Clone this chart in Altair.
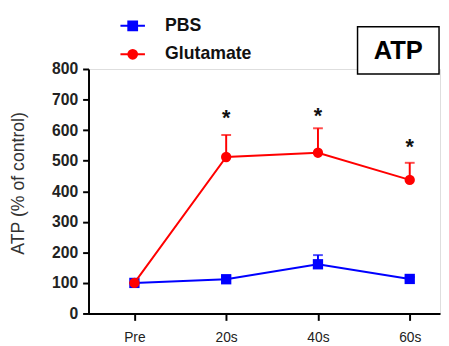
import altair as alt
import pandas as pd

# ---- data ----
x_labels = ["Pre", "20s", "40s", "60s"]
x_index = [0, 1, 2, 3]
pbs_mean = [100, 112, 161, 113]
pbs_upper = [100, 122, 191, 119]
glu_mean = [100, 512, 526, 437]
glu_upper = [100, 584, 606, 493]
star_index = [1, 2, 3]
star_value = [652, 660, 557]
y_ticks = [0, 100, 200, 300, 400, 500, 600, 700, 800]
series_names = ["PBS", "Glutamate"]
series_colors = ["#0000ff", "#ff0000"]
series_shapes = ["square", "circle"]
legend_paths = [
    "M-1.56,0H1.56M-0.56,-0.56H0.56V0.56H-0.56Z",
    "M-1.56,0H1.56M0.56,0A0.56,0.56,0,1,1,-0.56,0A0.56,0.56,0,1,1,0.56,0Z",
]
panel_label = "ATP"

FONT = "Liberation Sans"

rows = []
for name, means, uppers in [("PBS", pbs_mean, pbs_upper), ("Glutamate", glu_mean, glu_upper)]:
    for i, m, u in zip(x_index, means, uppers):
        rows.append({"series": name, "t": i, "mean": m, "upper": u})
df = pd.DataFrame(rows)
stars = pd.DataFrame({"t": star_index, "mean": star_value, "s": ["*"] * len(star_index)})
legend_df = pd.DataFrame({"series": series_names})
label_df = pd.DataFrame({"label": [panel_label]})

label_expr = "[" + ",".join(f"'{l}'" for l in x_labels) + "][datum.value]"

xscale = alt.Scale(domain=[-0.5, 3.33], nice=False, zero=False)
yscale = alt.Scale(domain=[0, 800], nice=False)

x_axis = alt.Axis(values=x_index, labelExpr=label_expr, title=None, grid=False,
                  domainColor="black", domainWidth=2, tickColor="black", tickWidth=2,
                  tickSize=7, labelFont=FONT, labelFontSize=14, labelColor="#222",
                  labelPadding=11)
y_axis = alt.Axis(values=y_ticks, title="ATP (% of control)", grid=False,
                  domainColor="black", domainWidth=2, tickColor="black", tickWidth=2,
                  tickSize=6, labelFont=FONT, labelFontSize=16, labelFontWeight="bold",
                  labelColor="#222", labelPadding=5, labelOverlap=False,
                  titleFont=FONT, titleFontSize=18, titleFontWeight="normal",
                  titleColor="#333", titleAngle=270, titleBaseline="bottom",
                  titleAlign="center", titleX=-62, titleY=116)


def X():
    return alt.X("t:Q", scale=xscale, axis=x_axis)


def Y(field):
    return alt.Y(f"{field}:Q", scale=yscale, axis=y_axis)


layers = []
for name, color, shape in zip(series_names, series_colors, series_shapes):
    base = alt.Chart(df).transform_filter(alt.datum.series == name)
    line = base.mark_line(color=color, strokeWidth=2).encode(x=X(), y=Y("mean"))
    err = base.mark_rule(color=color, strokeWidth=2).encode(
        x=X(), y=Y("mean"), y2="upper:Q")
    cap = base.mark_tick(color=color, orient="horizontal", size=10, thickness=2).encode(
        x=X(), y=Y("upper"))
    pts = base.mark_point(shape=shape, filled=True, color=color, size=110, opacity=1).encode(
        x=X(), y=Y("mean"))
    layers += [line, err, cap, pts]

star_layer = alt.Chart(stars).mark_text(
    font=FONT, fontSize=22, fontWeight="bold", color="#111", baseline="middle", dy=4
).encode(x=X(), y=Y("mean"), text="s:N")

legend_layer = alt.Chart(legend_df).transform_filter("false").mark_point(
    filled=True, size=256, strokeWidth=2, opacity=1
).encode(
    fill=alt.Fill("series:N", scale=alt.Scale(domain=series_names, range=series_colors),
                  legend=alt.Legend(title=None, orient="none", legendX=36, legendY=-53,
                                    labelFont=FONT, labelFontSize=18, labelFontWeight="bold",
                                    labelColor="#111", labelOffset=24, rowPadding=11,
                                    symbolSize=256, symbolStrokeWidth=2, symbolOpacity=1,
                                    padding=0)),
    stroke=alt.Stroke("series:N", scale=alt.Scale(domain=series_names, range=series_colors)),
    shape=alt.Shape("series:N", scale=alt.Scale(domain=series_names, range=legend_paths)),
)

box = alt.Chart(label_df).mark_rect(fill="white", stroke="black", strokeWidth=1.5).encode(
    x=alt.value(274), x2=alt.value(357), y=alt.value(-43), y2=alt.value(5))
box_text = alt.Chart(label_df).mark_text(
    font=FONT, fontSize=26, fontWeight="bold", color="black", baseline="middle"
).encode(x=alt.value(315.5), y=alt.value(-18), text="label:N")

chart = alt.layer(*layers, star_layer, legend_layer, box, box_text).properties(
    width=358, height=249,
    autosize=alt.AutoSizeParams(type="none"),
    padding={"left": 82, "top": 59, "right": 1, "bottom": 30},
).configure_view(stroke=None).configure(background="white")

chart.save("out.html", embed_options={"renderer": "svg", "actions": False})
